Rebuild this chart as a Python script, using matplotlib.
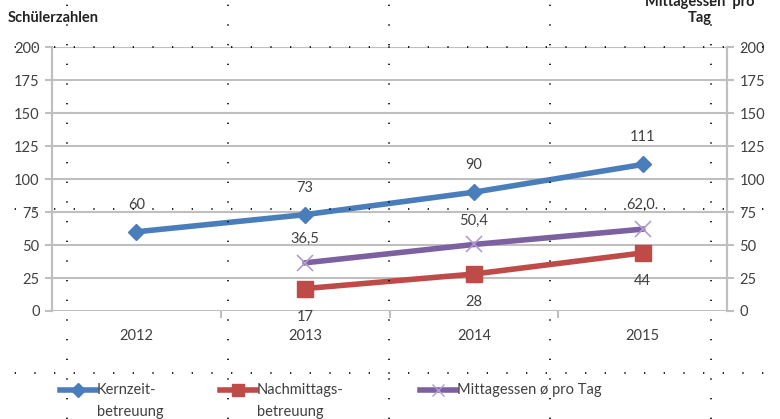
import matplotlib
matplotlib.use("Agg")
import matplotlib.pyplot as plt
from matplotlib.lines import Line2D

plt.rcParams['font.family'] = ['Lato', 'DejaVu Sans']

years = ["2012", "2013", "2014", "2015"]
kernzeit = [60, 73, 90, 111]
nachmittag = [None, 17, 28, 44]
mittagessen = [None, 36.5, 50.4, 62.0]
mittag_labels = ["", "36,5", "50,4", "62,0."]
yticks = [0, 25, 50, 75, 100, 125, 150, 175, 200]
legend_labels = ["Kernzeit-\nbetreuung", "Nachmittags-\nbetreuung", "Mittagessen ø pro Tag"]

blue = "#4A7EBB"
red = "#BE4B48"
purple = "#7D60A0"
grid_c = "#BFBFBF"
txt_c = "#404040"

fig = plt.figure(figsize=(7.8, 4.19), dpi=100)
ax = fig.add_axes([52 / 780, 1 - 311 / 419, 675 / 780, 264 / 419])
ax2 = ax.twinx()

x = list(range(len(years)))
ax.set_xlim(-0.5, 3.5)
ax.set_ylim(0, 200)
ax2.set_ylim(0, 200)

for y in yticks:
    ax.axhline(y, color=grid_c, lw=1.5, zorder=0)

ax.plot(x, kernzeit, color=blue, lw=4, marker="D", ms=8, zorder=3)
xs = [i for i, v in enumerate(nachmittag) if v is not None]
ax.plot(xs, [nachmittag[i] for i in xs], color=red, lw=4, marker="s", ms=11, zorder=3)
xm = [i for i, v in enumerate(mittagessen) if v is not None]
ax2.plot(xm, [mittagessen[i] for i in xm], color=purple, lw=4, marker="x",
         ms=11, mew=1.2, mec="#B09CD0", zorder=3)

for i, v in enumerate(kernzeit):
    ax.annotate(str(v), (i, v), xytext=(0, 27), textcoords="offset pixels",
                ha="center", va="center", fontsize=10.5, color=txt_c)
for i in xs:
    ax.annotate(str(nachmittag[i]), (i, nachmittag[i]), xytext=(0, -28),
                textcoords="offset pixels", ha="center", va="center",
                fontsize=10.5, color=txt_c)
for i in xm:
    ax2.annotate(mittag_labels[i], (i, mittagessen[i]), xytext=(0, 24),
                 textcoords="offset pixels", ha="center", va="center",
                 fontsize=10.5, color=txt_c)

ax.set_xticks(x)
ax.set_xticklabels(years)
ax.set_xticks([0.5, 1.5, 2.5], minor=True)
ax.tick_params(axis="x", which="major", length=0, pad=13, labelsize=10.5, labelcolor=txt_c)
ax.tick_params(axis="x", which="minor", length=5, color=grid_c, width=1.5)
ax.set_yticks(yticks)
ax.tick_params(axis="y", length=5, color=grid_c, width=1.5, labelsize=10.5,
               labelcolor=txt_c, pad=4)
ax2.set_yticks(yticks)
ax2.tick_params(axis="y", length=5, color=grid_c, width=1.5, labelsize=10.5,
                labelcolor=txt_c, pad=4)

for a in (ax, ax2):
    a.spines["top"].set_visible(False)
    a.spines["bottom"].set_visible(False)
    for s in ("left", "right"):
        a.spines[s].set_color(grid_c)
        a.spines[s].set_linewidth(1.5)

fig.text(8 / 780, 1 - 18 / 419, "Schülerzahlen", fontsize=10.5, fontweight="bold",
         color="#222222", va="center", ha="left")
fig.text(700 / 780, 1 - 10 / 419, "Mittagessen  pro\nTag", fontsize=10.5,
         fontweight="bold", color="#222222", va="center", ha="center",
         linespacing=1.2)

# dotted layout grid of the source document
for px in [67, 228, 389, 550, 711]:
    fig.add_artist(Line2D([px / 780, px / 780], [0, 1], color="black", lw=1.2,
                          linestyle=(0, (0.8, 11)), transform=fig.transFigure))
for py in [47, 209, 373]:
    fig.add_artist(Line2D([0, 1], [1 - py / 419, 1 - py / 419], color="black", lw=1.2,
                          linestyle=(3, (0.8, 11)), transform=fig.transFigure))

# legend
legend_styles = [
    dict(color=blue, marker="D", ms=7),
    dict(color=red, marker="s", ms=9),
    dict(color=purple, marker="x", ms=9, mec="#B09CD0"),
]
legend_x = [60, 220, 420]
ly = 1 - 390 / 419
for lab, st, px in zip(legend_labels, legend_styles, legend_x):
    fig.add_artist(Line2D([px / 780, (px + 18) / 780, (px + 36) / 780], [ly] * 3,
                          lw=4, markevery=[1], transform=fig.transFigure, **st))
    if "\n" in lab:
        fig.text((px + 37) / 780, 1 - 383 / 419, lab, fontsize=10.5, color=txt_c,
                 ha="left", va="top", linespacing=1.7)
    else:
        fig.text((px + 37) / 780, ly, lab, fontsize=10.5, color=txt_c,
                 ha="left", va="center")

fig.savefig("out.png", dpi=100)
